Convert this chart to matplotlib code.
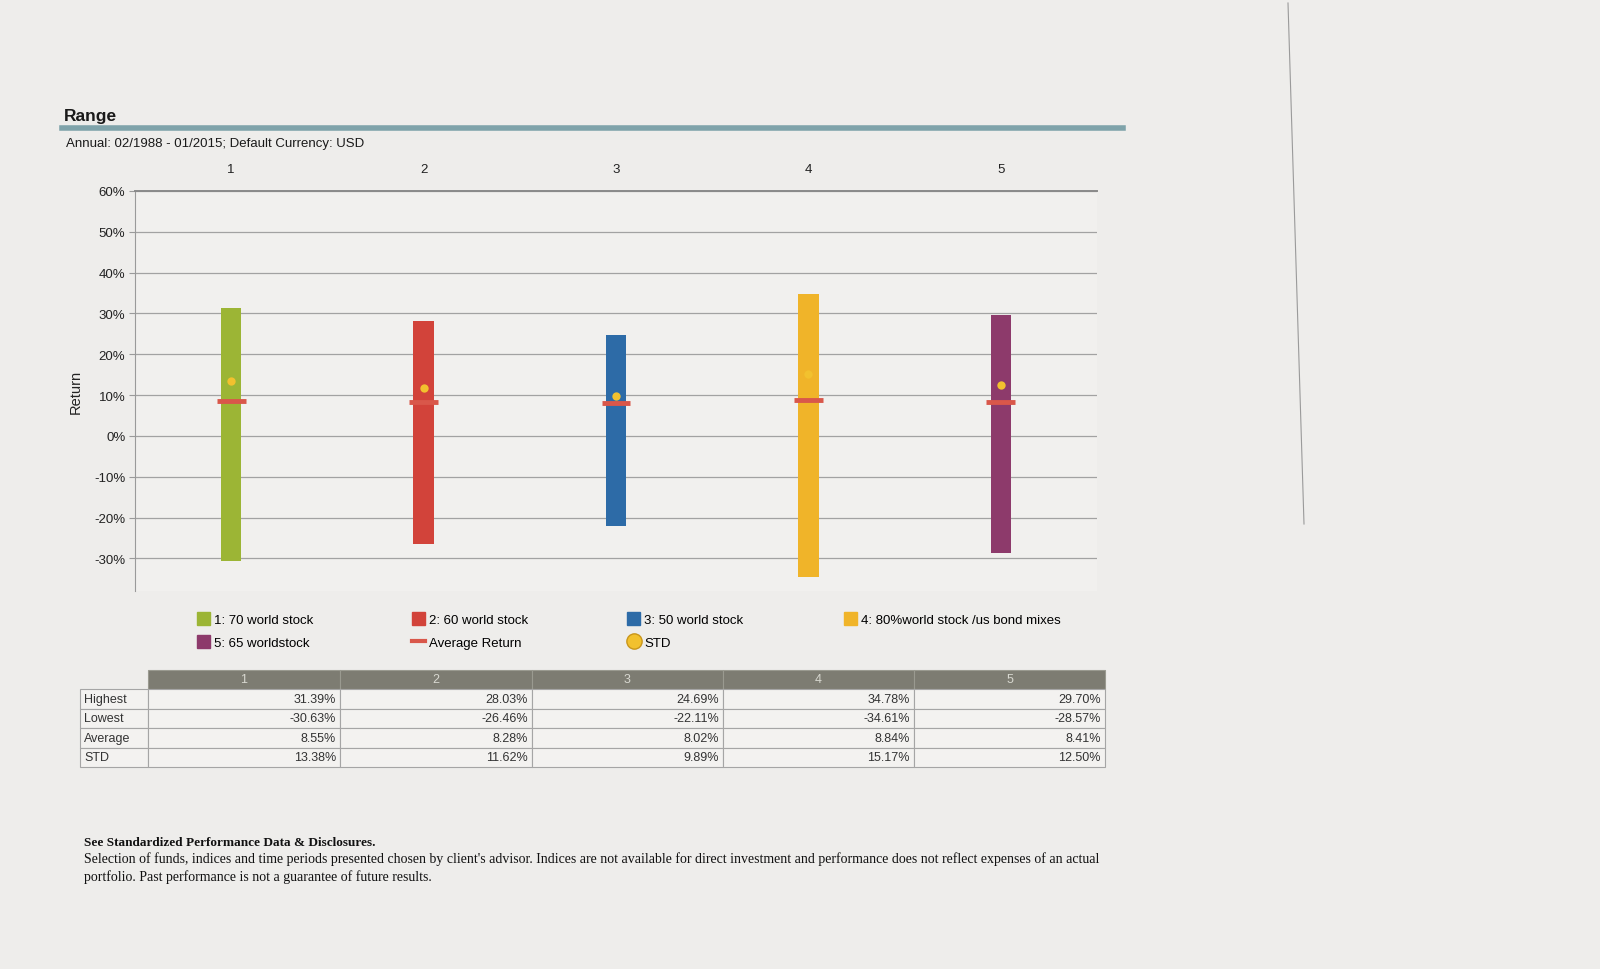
import numpy as np
import matplotlib.pyplot as plt
from matplotlib.patches import Patch, Rectangle
from matplotlib.lines import Line2D

plt.rcParams['font.family'] = ['Liberation Sans', 'DejaVu Sans']

# data
categories = ['1', '2', '3', '4', '5']
names = ['1: 70 world stock', '2: 60 world stock', '3: 50 world stock',
         '4: 80%world stock /us bond mixes', '5: 65 worldstock']
highest = [31.39, 28.03, 24.69, 34.78, 29.70]
lowest = [-30.63, -26.46, -22.11, -34.61, -28.57]
average = [8.55, 8.28, 8.02, 8.84, 8.41]
std = [13.38, 11.62, 9.89, 15.17, 12.50]
row_labels = ['Highest', 'Lowest', 'Average', 'STD']
yticks = [-30, -20, -10, 0, 10, 20, 30, 40, 50, 60]

colors = ['#9cb535', '#d2433a', '#2d6ba7', '#f0b429', '#8d3a6b']
avg_color = '#d9574a'
std_color = '#f2c12e'
bg = '#eeedeb'

W, H = 1600, 970
def fx(px):
    return px / W
def fy(py):
    return 1 - py / H

fig = plt.figure(figsize=(16, 9.7), dpi=100, facecolor=bg)

# header
fig.text(fx(64), fy(117), 'Range', fontsize=12.5, fontweight='bold', color='#1a1a1a', va='center')
fig.add_artist(Line2D([fx(62), fx(1123)], [fy(129), fy(129)], color='#7fa3aa', lw=4))
fig.text(fx(66), fy(144), 'Annual: 02/1988 - 01/2015; Default Currency: USD', fontsize=9.5,
         color='#1a1a1a', va='center')

# main chart
ax = fig.add_axes([fx(135), fy(592), (1097 - 135) / W, (592 - 192) / H])
ax.set_facecolor('#f1f0ee')
x = np.arange(1, len(categories) + 1)
ax.bar(x, np.array(highest) - np.array(lowest), bottom=lowest, width=0.105,
       color=colors, zorder=3)
ax.hlines(average, x - 0.075, x + 0.075, color=avg_color, lw=3.5, zorder=4)
ax.scatter(x, std, s=36, color=std_color, zorder=5, linewidths=0)

ax.set_xlim(0.5, 5.5)
ax.set_ylim(-38, 60)
ax.set_yticks(yticks)
ax.set_yticklabels([f'{v}%' for v in yticks], fontsize=9.5, color='#222222')
ax.grid(axis='y', color='#a2a2a2', lw=0.9, zorder=1)
ax.set_xticks(x)
ax.set_xticklabels(categories, fontsize=9.5, color='#222222')
ax.tick_params(axis='x', bottom=False, labelbottom=False, top=False, labeltop=True, pad=8)
ax.tick_params(axis='y', length=4, color='#9a9a9a', pad=3)
for s in ['right', 'bottom']:
    ax.spines[s].set_visible(False)
ax.spines['left'].set_color('#9a9a9a')
ax.spines['top'].set_color('#8a8a8a')
ax.spines['top'].set_linewidth(1.4)
ax.set_ylabel('Return', fontsize=10.5, color='#222222', labelpad=8)

# legend, one block per column
handles = [Patch(color=c) for c in colors]
avg_h = Line2D([], [], color=avg_color, lw=3)
std_h = Line2D([], [], marker='o', ls='none', markersize=11, markerfacecolor=std_color,
               markeredgecolor='#c9961a')
columns = [([handles[0], handles[4]], [names[0], names[4]], 192),
           ([handles[1], avg_h], [names[1], 'Average Return'], 407),
           ([handles[2], std_h], [names[2], 'STD'], 622),
           ([handles[3]], [names[3]], 839)]
for hs, ls, px in columns:
    fig.legend(hs, ls, loc='upper left', bbox_to_anchor=(fx(px), fy(608)), frameon=False,
               fontsize=9.5, handlelength=1.0, handleheight=1.1, handletextpad=0.3,
               labelspacing=0.7, borderaxespad=0)

# table
tax = fig.add_axes([0, 0, 1, 1])
tax.set_xlim(0, W)
tax.set_ylim(H, 0)
tax.axis('off')
col_edges = [80, 148, 340, 532, 723, 914, 1105]
head_top, head_bot = 671, 690
row_h = 19.5
edge = '#a5a5a5'
for j, cat in enumerate(categories):
    x0, x1 = col_edges[j + 1], col_edges[j + 2]
    tax.add_patch(Rectangle((x0, head_top), x1 - x0, head_bot - head_top, facecolor='#7d7c72',
                            edgecolor='#9a9a90', lw=0.8))
    tax.text((x0 + x1) / 2, (head_top + head_bot) / 2, cat, ha='center', va='center',
             fontsize=9, color='#d8d8d0')
values = [highest, lowest, average, std]
for i, lab in enumerate(row_labels):
    y0 = head_bot + i * row_h
    tax.add_patch(Rectangle((col_edges[0], y0), col_edges[1] - col_edges[0], row_h,
                            facecolor='#f3f2f0', edgecolor=edge, lw=0.8))
    tax.text(col_edges[0] + 4, y0 + row_h / 2, lab, ha='left', va='center', fontsize=9,
             color='#333333')
    for j in range(len(categories)):
        x0, x1 = col_edges[j + 1], col_edges[j + 2]
        tax.add_patch(Rectangle((x0, y0), x1 - x0, row_h, facecolor='#f3f2f0',
                                edgecolor=edge, lw=0.8))
        tax.text(x1 - 4, y0 + row_h / 2, f'{values[i][j]:.2f}%', ha='right', va='center',
                 fontsize=9, color='#333333')

# footer
fig.text(fx(84), fy(843), 'See Standardized Performance Data & Disclosures.', fontsize=9.5,
         fontweight='bold', family='Liberation Serif', color='#111111', va='center')
fig.text(fx(84), fy(859), "Selection of funds, indices and time periods presented chosen by "
         "client's advisor. Indices are not available for direct investment and performance "
         "does not reflect expenses of an actual", fontsize=10, family='Liberation Serif',
         color='#111111', va='center')
fig.text(fx(84), fy(877), 'portfolio. Past performance is not a guarantee of future results.',
         fontsize=10, family='Liberation Serif', color='#111111', va='center')

# scanner edge line on the right
fig.add_artist(Line2D([fx(1288), fx(1304)], [fy(4), fy(525)], color='#9a9a9a', lw=0.8))

fig.savefig('out.png', dpi=100, facecolor=bg)
